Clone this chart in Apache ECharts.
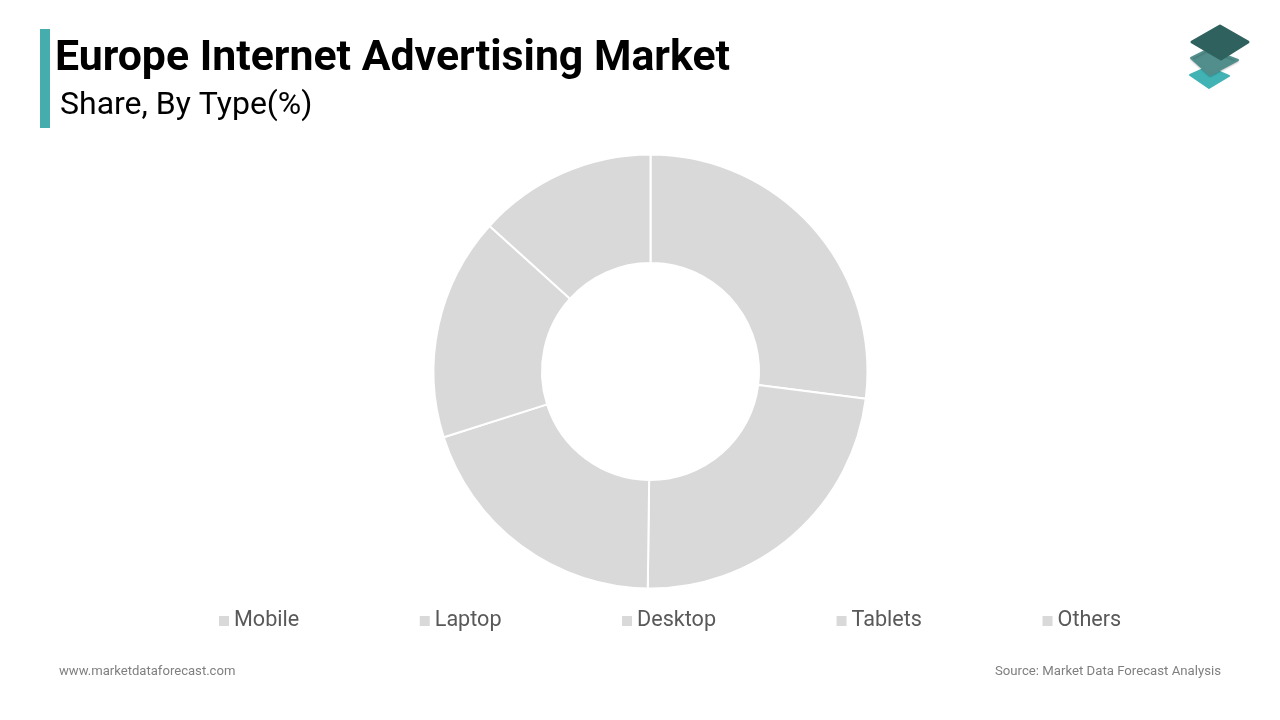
<!DOCTYPE html>
<html>
<head>
<meta charset="utf-8">
<title>Europe Internet Advertising Market</title>
<script src="https://cdn.jsdelivr.net/npm/echarts@6/dist/echarts.min.js"></script>
<style>
  html, body { margin: 0; padding: 0; background: #fff; }
  #chart { width: 1280px; height: 720px; }
</style>
</head>
<body>
<div id="chart"></div>
<script>
const categories = ['Mobile', 'Laptop', 'Desktop', 'Tablets', 'Others'];
const shares = [27, 23.2, 19.9, 16.6, 13.3];

const sliceColor = '#d9d9d9';
const fontName = 'Roboto';

const chart = echarts.init(document.getElementById('chart'));

chart.setOption({
  animation: false,
  backgroundColor: '#fff',
  title: [
    { text: 'Europe Internet Advertising Market', left: 50, top: 33,
      textStyle: { fontFamily: fontName, fontSize: 42.8, fontWeight: 'bold', color: '#000' } },
    { text: 'Share, By Type(%)', left: 55, top: 85,
      textStyle: { fontFamily: fontName, fontSize: 32, fontWeight: 'normal', color: '#000' } },
    { text: 'www.marketdataforecast.com', left: 54, top: 660,
      textStyle: { fontFamily: fontName, fontSize: 13.1, fontWeight: 'normal', color: '#7f7f7f' } },
    { text: 'Source: Market Data Forecast Analysis', right: 54, top: 660,
      textStyle: { fontFamily: fontName, fontSize: 13.2, fontWeight: 'normal', color: '#7f7f7f' } }
  ],
  legend: {
    data: categories,
    left: 214,
    top: 605,
    icon: 'rect',
    itemWidth: 10,
    itemHeight: 10,
    itemGap: 120.5,
    selectedMode: false,
    itemStyle: { borderWidth: 0 },
    textStyle: { fontFamily: fontName, fontSize: 21.6, color: '#595959' }
  },
  series: [{
    type: 'pie',
    center: [650.5, 371.5],
    radius: [108.5, 217],
    startAngle: 90,
    clockwise: true,
    label: { show: false },
    labelLine: { show: false },
    silent: true,
    itemStyle: { color: sliceColor, borderColor: '#fff', borderWidth: 2 },
    data: categories.map((name, i) => ({ name: name, value: shares[i] }))
  }],
  graphic: [
    // accent bar next to the title
    { type: 'rect', shape: { x: 40, y: 29, width: 10, height: 99 }, style: { fill: '#45adab' } },
    // logo, three stacked tiles
    { type: 'polygon', shape: { points: [[1190, 75], [1208, 67], [1229, 76], [1209, 88]] },
      style: { fill: '#42b3b5', stroke: '#42b3b5', lineWidth: 2, lineJoin: 'round' } },
    { type: 'polygon', shape: { points: [[1191, 58], [1209, 49], [1238, 60], [1210, 75]] },
      style: { fill: '#528f8c', stroke: '#528f8c', lineWidth: 2, lineJoin: 'round', shadowBlur: 2, shadowColor: 'rgba(0,0,0,0.2)', shadowOffsetY: 1 } },
    { type: 'polygon', shape: { points: [[1192, 42], [1220, 26], [1248, 42], [1221, 59]] },
      style: { fill: '#2f615e', stroke: '#2f615e', lineWidth: 3, lineJoin: 'round' } }
  ]
});
</script>
</body>
</html>
